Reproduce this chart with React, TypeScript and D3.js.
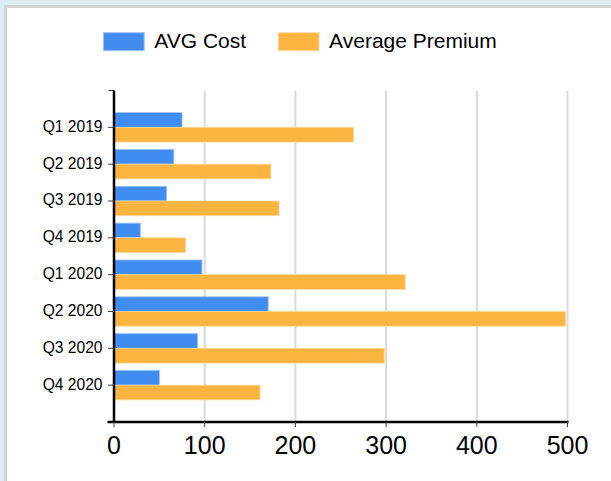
import React from "react";
import * as d3 from "d3";

const categories = ["Q1 2019", "Q2 2019", "Q3 2019", "Q4 2019", "Q1 2020", "Q2 2020", "Q3 2020", "Q4 2020"];
const avgCost = [75, 66, 58, 29, 97, 170, 92, 50];
const avgPremium = [264, 173, 182, 79, 321, 498, 298, 161];
const seriesNames = ["AVG Cost", "Average Premium"];
const xTicks = [0, 100, 200, 300, 400, 500];

const colors = ["#418CF0", "#FCB441"];
const strokes = ["#9cc3f6", "#fdd89c"];

export default function App() {
  const W = 611, H = 481;
  const left = 114, right = 567.5, top = 90.5, bottom = 422;
  const x = d3.scaleLinear().domain([0, 500]).range([left, right]);
  const y = d3.scalePoint<string>().domain(categories).range([top, bottom]).padding(1);
  const bh = 14.7;
  const series = [avgCost, avgPremium];
  const font = "Arial, 'Liberation Sans', sans-serif";

  const legendX = [103.5, 278.3];

  return (
    <svg width={W} height={H} style={{ position: "fixed", left: 0, top: 0 }} fontFamily={font}>
      <rect x={0} y={0} width={W} height={H} fill="#dcedf4" />
      <rect x={4} y={5} width={W} height={H} fill="#d3d3d3" />
      <rect x={7} y={8} width={W} height={H} fill="#ffffff" />

      {/* legend */}
      {seriesNames.map((n, i) => (
        <g key={n}>
          <rect x={legendX[i]} y={32.7} width={40.7} height={18} fill={colors[i]} stroke={strokes[i]} strokeWidth={1} />
          <text x={legendX[i] + 50.8} y={48.3} fontSize={21} fill="#000">{n}</text>
        </g>
      ))}

      {/* gridlines */}
      {xTicks.filter((t) => t > 0).map((t) => (
        <line key={t} x1={x(t)} x2={x(t)} y1={top} y2={bottom} stroke="#dadada" strokeWidth={2} />
      ))}

      {/* bars */}
      {categories.map((c, ci) => (
        <g key={c}>
          {series.map((s, si) => (
            <rect
              key={si}
              x={x(0)}
              y={(y(c) as number) - bh + si * bh}
              width={x(s[ci]) - x(0)}
              height={bh}
              fill={colors[si]}
              stroke={strokes[si]}
              strokeWidth={0.8}
            />
          ))}
        </g>
      ))}

      {/* y axis */}
      <line x1={left} x2={left} y1={top} y2={bottom} stroke="#000" strokeWidth={2.5} />
      <line x1={108.5} x2={left} y1={top} y2={top} stroke="#333" strokeWidth={1} />
      {categories.map((c) => (
        <g key={c}>
          <line x1={108} x2={left} y1={y(c)} y2={y(c)} stroke="#444" strokeWidth={1} />
          <text x={102.5} y={(y(c) as number) - 1} dy="0.35em" textAnchor="end" fontSize={15.6} fill="#000">{c}</text>
        </g>
      ))}

      {/* x axis */}
      <line x1={107.5} x2={right + 1} y1={bottom} y2={bottom} stroke="#000" strokeWidth={2.5} />
      {xTicks.map((t) => (
        <g key={t}>
          <line x1={x(t)} x2={x(t)} y1={bottom} y2={bottom + 5} stroke="#444" strokeWidth={1} />
          <text x={x(t)} y={454} textAnchor="middle" fontSize={25} fill="#000">{t}</text>
        </g>
      ))}
    </svg>
  );
}
